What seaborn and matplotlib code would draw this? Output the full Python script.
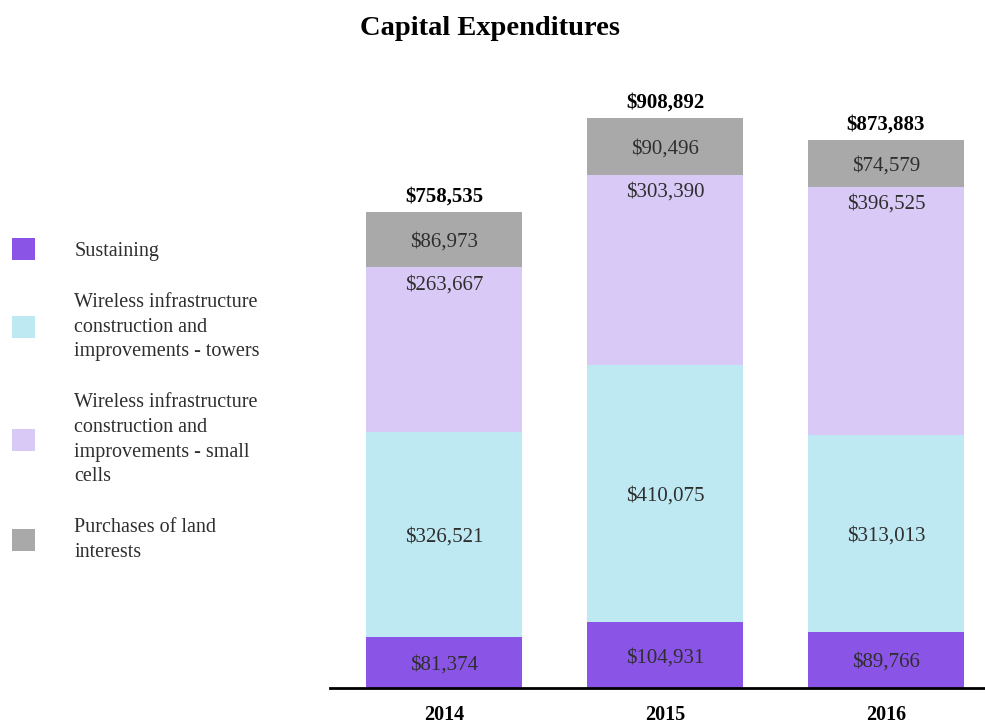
import numpy as np
import pandas as pd
import matplotlib.pyplot as plt
import seaborn as sns
from matplotlib.patches import Patch

sns.set_style('white')
plt.rcParams['font.family'] = ['Liberation Serif', 'DejaVu Serif']

# -------------------------------------------
# data (in thousands of $)
# -------------------------------------------
years = ['2014', '2015', '2016']
sustaining = [81374, 104931, 89766]
towers = [326521, 410075, 313013]
small_cells = [263667, 303390, 396525]
land = [86973, 90496, 74579]
totals = [758535, 908892, 873883]

series_names = ['Sustaining',
                'Wireless infrastructure\nconstruction and\nimprovements - towers',
                'Wireless infrastructure\nconstruction and\nimprovements - small\ncells',
                'Purchases of land\ninterests']
colors = ['#8A55E6', '#BEE8F2', '#D9C9F6', '#A9A9A9']

df = pd.DataFrame({'year': years, 'sustaining': sustaining, 'towers': towers,
                   'small_cells': small_cells, 'land': land})
layers = ['sustaining', 'towers', 'small_cells', 'land']
cum = df[layers].cumsum(axis=1)

fig = plt.figure(figsize=(9.85, 7.26), dpi=100)
ax = fig.add_axes([0.335, 0.0523, 0.665, 0.8650])

# draw cumulative stacks from tallest to shortest so lower segments sit in front
for layer, col in reversed(list(zip(layers, colors))):
    sns.barplot(x=df['year'], y=cum[layer], color=col, saturation=1,
                width=0.706, linewidth=0, ax=ax)

ax.set_xlim(-0.516, 2.448)
ax.set_ylim(0, 1001000)

# segment labels
for i in range(len(years)):
    bottoms = [0] + list(cum.iloc[i, :-1])
    for j, layer in enumerate(layers):
        val = df[layer][i]
        if layer == 'small_cells':
            ax.annotate(f'${val:,}', (i, cum[layer][i]), xytext=(0, -6),
                        textcoords='offset points', ha='center', va='top',
                        fontsize=15, color='#2e2e2e')
        else:
            ax.text(i, bottoms[j] + val / 2, f'${val:,}', ha='center',
                    va='center_baseline', fontsize=15, color='#2e2e2e')
    ax.annotate(f'${totals[i]:,}', (i, totals[i]), xytext=(0, 4),
                textcoords='offset points', ha='center', va='bottom',
                fontsize=15, fontweight='bold', color='black')

ax.set_xlabel('')
ax.set_ylabel('')
ax.set_yticks([])
ax.tick_params(axis='x', length=0, pad=12)
for lab in ax.get_xticklabels():
    lab.set_fontweight('bold')
    lab.set_fontsize(14.5)
    lab.set_color('black')
for s in ['top', 'right', 'left']:
    ax.spines[s].set_visible(False)
ax.spines['bottom'].set_color('black')
ax.spines['bottom'].set_linewidth(2)

handles = [Patch(facecolor=c, edgecolor='none') for c in colors]
leg = fig.legend(handles, series_names, loc='center left', bbox_to_anchor=(0.012, 0.449),
                 frameon=False, fontsize=14.5, handlelength=1.15, handleheight=1.3,
                 handletextpad=1.95, labelspacing=1.6, borderpad=0, borderaxespad=0)
for t in leg.get_texts():
    t.set_linespacing(1.4)
    t.set_color('#2e2e2e')

fig.suptitle('Capital Expenditures', x=0.497, y=0.978, fontsize=20.5,
             fontweight='bold', color='black')

plt.savefig('out.png', dpi=100)
